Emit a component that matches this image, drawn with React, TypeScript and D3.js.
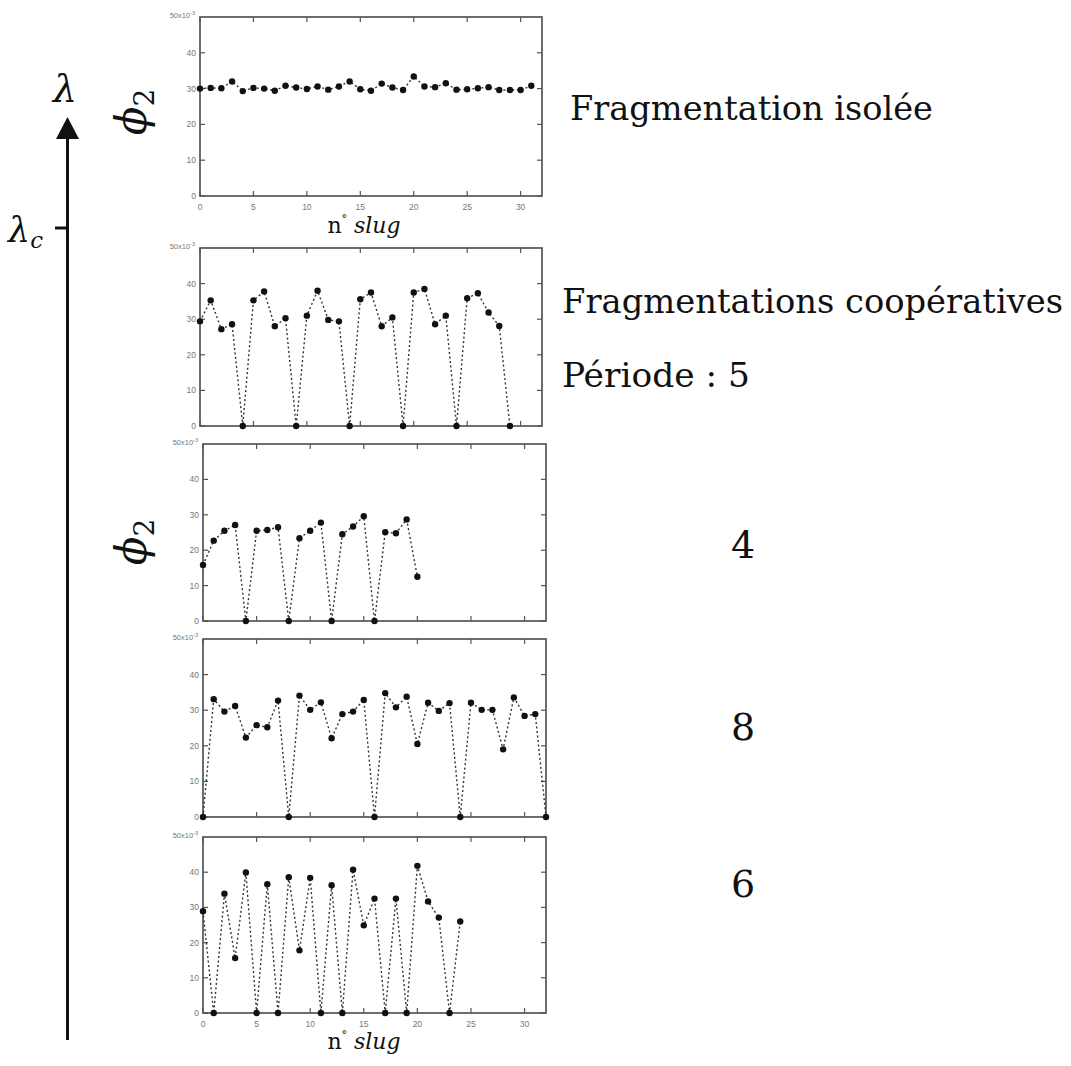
import React from "react";
import * as d3 from "d3";

// φ2 values (×10⁻³) indexed by slug number
const isolatedValues = [30, 30.2, 30.1, 32, 29.3, 30.2, 30, 29.4, 30.8, 30.3, 29.9, 30.6, 29.7, 30.6, 32, 29.8, 29.4, 31.4, 30.3, 29.6, 33.4, 30.6, 30.4, 31.5, 29.7, 29.8, 30.1, 30.4, 29.6, 29.6, 29.6, 30.8];
const period5Values = [29.4, 35.3, 27.2, 28.6, 0, 35.3, 37.8, 28, 30.3, 0, 31, 38, 29.8, 29.4, 0, 35.6, 37.5, 28, 30.5, 0, 37.5, 38.5, 28.6, 31, 0, 35.9, 37.3, 31.9, 28.1, 0];
const period4Values = [15.8, 22.7, 25.5, 27.1, 0, 25.5, 25.7, 26.5, 0, 23.4, 25.5, 27.8, 0, 24.5, 26.7, 29.6, 0, 25.1, 24.8, 28.7, 12.5];
const period8Values = [0, 33.1, 29.6, 31.2, 22.3, 25.8, 25.2, 32.7, 0, 34.1, 30.1, 32.2, 22.1, 28.9, 29.6, 32.9, 0, 34.8, 30.8, 33.8, 20.5, 32.1, 29.8, 32, 0, 32.1, 30.1, 30.1, 19, 33.6, 28.4, 28.9, 0];
const period6Values = [28.9, 0, 33.9, 15.6, 39.9, 0, 36.6, 0, 38.6, 17.8, 38.4, 0, 36.3, 0, 40.7, 24.9, 32.5, 0, 32.5, 0, 41.8, 31.7, 27.1, 0, 26];

const yTickValues = [0, 10, 20, 30, 40];
const xTickValues = [0, 5, 10, 15, 20, 25, 30];
const xDomain = [0, 32];
const yDomain = [0, 50];

const panelSeries = [isolatedValues, period5Values, period4Values, period8Values, period6Values];
const periodLabels = ["", "5", "4", "8", "6"];

// layout (pixel boxes of each panel)
const panelBoxes = [
  { left: 200, right: 542, top: 17, bottom: 196, xLabels: true },
  { left: 200, right: 542, top: 248, bottom: 426, xLabels: false },
  { left: 203, right: 546, top: 444, bottom: 621, xLabels: false },
  { left: 203, right: 546, top: 639, bottom: 817, xLabels: false },
  { left: 203, right: 546, top: 837, bottom: 1013, xLabels: true },
];

const serif = "DejaVu Serif";
const sans = "Liberation Sans, Arial, sans-serif";

function Panel({ values, box }: { values: number[]; box: any }) {
  const x = d3.scaleLinear().domain(xDomain).range([box.left, box.right]);
  const y = d3.scaleLinear().domain(yDomain).range([box.bottom, box.top]);
  const line = d3
    .line<number>()
    .x((_, i) => x(i))
    .y((d) => y(d));
  const tl = 5;
  const tickColor = "#555";
  return (
    <g>
      <rect x={box.left} y={box.top} width={box.right - box.left} height={box.bottom - box.top} fill="#fff" stroke="#4a4a4a" strokeWidth={1.6} />
      {yTickValues.map((t) => (
        <g key={"y" + t}>
          <line x1={box.left} x2={box.left + tl} y1={y(t)} y2={y(t)} stroke={tickColor} strokeWidth={1.2} />
          <line x1={box.right} x2={box.right - tl} y1={y(t)} y2={y(t)} stroke={tickColor} strokeWidth={1.2} />
          <text x={box.left - 4} y={y(t)} dy="0.35em" textAnchor="end" fontFamily={sans} fontSize={8.5} fill="#777">
            {t}
          </text>
        </g>
      ))}
      <text x={box.left - 5} y={box.top} dy="0.1em" textAnchor="end" fontFamily={sans} fontSize={7.5} fill="#777">
        50x10
        <tspan dy="-3" fontSize={5.5}>-3</tspan>
      </text>
      {xTickValues.map((t) => (
        <g key={"x" + t}>
          <line x1={x(t)} x2={x(t)} y1={box.bottom} y2={box.bottom - tl} stroke={tickColor} strokeWidth={1.2} />
          <line x1={x(t)} x2={x(t)} y1={box.top} y2={box.top + tl} stroke={tickColor} strokeWidth={1.2} />
          {box.xLabels && (
            <text x={x(t)} y={box.bottom + 11} dy="0.35em" textAnchor="middle" fontFamily={sans} fontSize={8.5} fill="#777">
              {t}
            </text>
          )}
        </g>
      ))}
      <path d={line(values) || ""} fill="none" stroke="#333" strokeWidth={1.4} strokeDasharray="2,2.5" />
      {values.map((v, i) => (
        <circle key={i} cx={x(i)} cy={y(v)} r={3.2} fill="#111" />
      ))}
    </g>
  );
}

function SlugLabel({ cx, baseline }: { cx: number; baseline: number }) {
  return (
    <text x={cx} y={baseline} textAnchor="middle" fontFamily={serif} fontSize={22} fill="#111">
      n
      <tspan fontSize={11} dy={-10}>°</tspan>
      <tspan dy={10} fontStyle="italic"> slug</tspan>
    </text>
  );
}

function PhiLabel({ cx, cy }: { cx: number; cy: number }) {
  return (
    <text transform={`translate(${cx},${cy}) rotate(-90)`} textAnchor="middle" fontFamily={serif} fontSize={42} fill="#111">
      <tspan fontStyle="italic">ϕ</tspan>
      <tspan fontSize={28} dy={8}>2</tspan>
    </text>
  );
}

export default function App() {
  const W = 1071;
  const H = 1066;
  return (
    <svg width={W} height={H} style={{ position: "absolute", left: 0, top: 0, background: "#fff" }}>
      <rect x={0} y={0} width={W} height={H} fill="#fff" />
      {panelSeries.map((vals, i) => (
        <Panel key={i} values={vals} box={panelBoxes[i]} />
      ))}
      <SlugLabel cx={364} baseline={233} />
      <SlugLabel cx={364} baseline={1049} />
      <PhiLabel cx={146} cy={112} />
      <PhiLabel cx={146} cy={542} />

      {/* lambda arrow */}
      <line x1={67.5} x2={67.5} y1={1040} y2={136} stroke="#111" strokeWidth={3} />
      <path d="M56,139 L79,139 L67.5,117 Z" fill="#111" />
      <line x1={55} x2={67} y1={228} y2={228} stroke="#111" strokeWidth={3} />
      <text x={65} y={102} textAnchor="middle" fontFamily={serif} fontStyle="italic" fontSize={38} fill="#111">
        λ
      </text>
      <text x={8} y={242} fontFamily={serif} fontStyle="italic" fontSize={35} fill="#111">
        λ<tspan fontSize={23} dy={6}>c</tspan>
      </text>

      {/* right labels */}
      <text x={570} y={120} fontFamily={serif} fontSize={34} fill="#111" textLength={363} lengthAdjust="spacingAndGlyphs">
        Fragmentation isolée
      </text>
      <text x={562} y={313} fontFamily={serif} fontSize={34} fill="#111" textLength={501} lengthAdjust="spacingAndGlyphs">
        Fragmentations coopératives
      </text>
      <text x={562} y={387} fontFamily={serif} fontSize={34} fill="#111" textLength={188} lengthAdjust="spacingAndGlyphs">
        Période : {periodLabels[1]}
      </text>
      {[2, 3, 4].map((i) => (
        <text key={i} x={743} y={[0, 0, 558, 740, 897][i]} textAnchor="middle" fontFamily={serif} fontSize={38} fill="#111">
          {periodLabels[i]}
        </text>
      ))}
    </svg>
  );
}
